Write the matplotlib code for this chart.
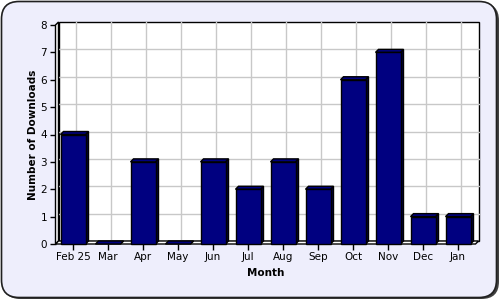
import matplotlib
matplotlib.use("Agg")
import matplotlib.pyplot as plt
from matplotlib.patches import Rectangle, Polygon, FancyBboxPatch

months = ["Feb 25", "Mar", "Apr", "May", "Jun", "Jul", "Aug", "Sep", "Oct", "Nov", "Dec", "Jan"]
downloads = [4, 0, 3, 0, 3, 2, 3, 2, 6, 7, 1, 1]
y_ticks = [0, 1, 2, 3, 4, 5, 6, 7, 8]

W, H = 500, 300
fig = plt.figure(figsize=(5, 3), dpi=100)
fig.patch.set_facecolor("white")

# outer rounded frame (with a dark shadow edge right/bottom)
shadow = FancyBboxPatch((3 / W, 1 / H), 496 / W, 296 / H,
                        boxstyle="round,pad=0,rounding_size=0.035",
                        transform=fig.transFigure, facecolor="#404040",
                        edgecolor="none", mutation_aspect=W / H, zorder=-11)
fig.patches.append(shadow)
frame = FancyBboxPatch((1.5 / W, 2.5 / H), 495 / W, 296 / H,
                       boxstyle="round,pad=0,rounding_size=0.035",
                       transform=fig.transFigure, facecolor="#EEEEFC",
                       edgecolor="#202020", linewidth=1.2, mutation_aspect=W / H,
                       zorder=-10)
fig.patches.append(frame)

ax_left, ax_w = 55.5, 420.0
ax_top, ax_bot = 25.0, 244.0
ax = fig.add_axes([ax_left / W, (H - ax_bot) / H, ax_w / W, (ax_bot - ax_top) / H])
ax.set_zorder(5)
ax.set_xlim(-0.5, len(months) - 0.5)
ax.set_ylim(0, 8)
ax.patch.set_alpha(0)
for s in ax.spines.values():
    s.set_visible(False)

px_x = len(months) / ax_w
px_y = 8 / (ax_bot - ax_top)
d = 3.0
dx, dy = d * px_x, d * px_y
x0, x1 = -0.5, len(months) - 0.5

# back wall
ax.add_patch(Rectangle((x0 + dx, dy), x1 - x0, 8, facecolor="white",
                       edgecolor="black", linewidth=1.0, zorder=0, clip_on=False))
# grid on back wall
for yv in y_ticks[1:-1]:
    ax.plot([x0 + dx, x1 + dx], [yv + dy, yv + dy], color="#C8C8C8", lw=1.0, zorder=1, clip_on=False)
for i in range(len(months)):
    ax.plot([i + dx, i + dx], [dy, 8 + dy], color="#C8C8C8", lw=1.0, zorder=1, clip_on=False)
# left wall
ax.add_patch(Polygon([(x0, 0), (x0 + dx, dy), (x0 + dx, 8 + dy), (x0, 8)],
                     facecolor="white", edgecolor="black", lw=1.0, zorder=2, clip_on=False))
# floor
ax.add_patch(Polygon([(x0, 0), (x1, 0), (x1 + dx, dy), (x0 + dx, dy)],
                     facecolor="white", edgecolor="black", lw=1.0, zorder=2, clip_on=False))

# bars
bw = 25.0 / 35.0
for i, v in enumerate(downloads):
    l, r = i - bw / 2, i + bw / 2
    ax.add_patch(Polygon([(r, 0), (r + dx, dy), (r + dx, v + dy), (r, v)],
                         facecolor="#000040", edgecolor="black", lw=1.0, zorder=4, clip_on=False))
    ax.add_patch(Polygon([(l, v), (l + dx, v + dy), (r + dx, v + dy), (r, v)],
                         facecolor="#000080", edgecolor="black", lw=1.0, zorder=4, clip_on=False))
    if v > 0:
        ax.add_patch(Rectangle((l, 0), bw, v, facecolor="#000080", edgecolor="black",
                               lw=1.0, zorder=5, clip_on=False))

ax.set_xticks(range(len(months)))
ax.set_xticklabels(months, fontsize=7.5)
ax.set_yticks(y_ticks)
ax.set_yticklabels([str(t) for t in y_ticks], fontsize=7.5)
ax.tick_params(axis="both", length=4, width=1, color="black", pad=2)
ax.set_xlabel("Month", fontsize=7.5, fontweight="bold", labelpad=4)
ax.set_ylabel("Number of Downloads", fontsize=7.5, fontweight="bold", labelpad=2)

fig.savefig("out.png", dpi=100)
